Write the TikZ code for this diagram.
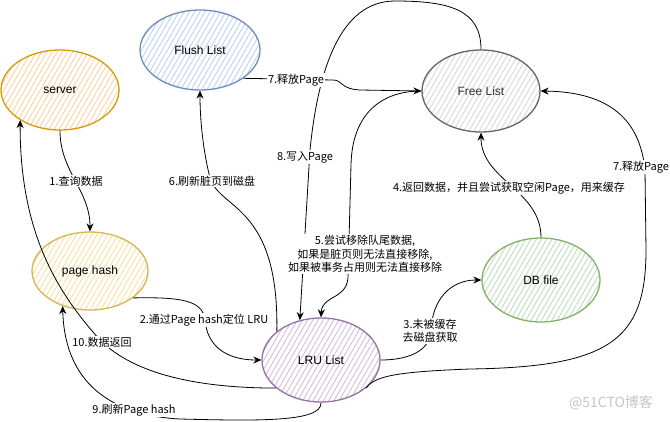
\documentclass[tikz,border=0pt]{standalone}
\usepackage{fontspec}
\setmainfont{Liberation Sans}
\newfontfamily\cjk{Noto Sans CJK SC}
\usetikzlibrary{shapes.geometric,arrows.meta,patterns.meta}

\definecolor{srvline}{HTML}{D79B00}
\definecolor{srvfill}{HTML}{FCD6A8}
\definecolor{flushline}{HTML}{6C8EBF}
\definecolor{flushfill}{HTML}{C3D7F2}
\definecolor{freeline}{HTML}{666666}
\definecolor{freefill}{HTML}{DCDCDC}
\definecolor{hashline}{HTML}{D6B656}
\definecolor{hashfill}{HTML}{FAE3A6}
\definecolor{lruline}{HTML}{9673A6}
\definecolor{lrufill}{HTML}{D6C4E0}
\definecolor{dbline}{HTML}{82B366}
\definecolor{dbfill}{HTML}{C6E0C2}

\begin{document}
\begin{tikzpicture}[x=1pt,y=-1pt,
    every node/.style={font=\fontsize{12}{14}\selectfont},
    blob/.style={ellipse,line width=1.3pt,minimum width=118pt,minimum height=80pt,inner sep=0pt},
    hatch/.style={pattern={Lines[angle=60,distance=4.5pt,line width=1pt]},pattern color=#1},
    arr/.style={-{Stealth[length=8pt,width=7pt]},line width=0.8pt},
    plain/.style={line width=0.8pt},
    lbl/.style={fill=white,inner sep=1pt,align=center,font=\cjk\fontsize{11}{13.5}\selectfont}]
    \useasboundingbox[fill=white] (0,0) rectangle (670,421);

    \node[blob,draw=srvline,hatch=srvfill] (server) at (60,90) {server};
    \node[blob,draw=flushline,hatch=flushfill,minimum width=120pt] (flush) at (200,50) {Flush List};
    \node[blob,draw=freeline,hatch=freefill,minimum height=82pt,text=black!80] (free) at (481,91) {Free List};
    \node[blob,draw=hashline,hatch=hashfill,minimum width=116pt,minimum height=78pt] (phash) at (90,271) {page hash};
    \node[blob,draw=lruline,hatch=lrufill,minimum height=84pt] (lru) at (321,360) {LRU List};
    \node[blob,draw=dbline,hatch=dbfill,minimum height=84pt] (db) at (541,280) {DB file};

    \draw[arr] (server.south) to[out=-90,in=90] (phash.north);
    \draw[arr] (phash.-32) .. controls (180,297) and (203,300) .. (205,320)
        .. controls (207,345) and (225,360) .. (lru.west);
    \draw[arr] (lru.east) .. controls (410,360) and (430,350) .. (431,331)
        .. controls (432,300) and (450,280) .. (db.west);
    \draw[arr] (db.north) to[out=90,in=-90] (free.south);
    \draw[arr] (free.west) .. controls (380,91) and (352,115) .. (351,165) -- (348,278)
        .. controls (346,300) and (322,295) .. (lru.north);
    \draw[arr] (lru.147) .. controls (279,205) and (220,210) .. (210,178)
        .. controls (203,150) and (200,120) .. (flush.south);
    \draw[arr] (flush.-33) -- (333,80) .. controls (343,80) and (340,89) .. (360,90) -- (free.west);
    \draw[arr] (lru.-32) .. controls (375,377) and (390,372) .. (470,369)
        .. controls (610,367) and (646,340) .. (646,250) -- (645,170)
        .. controls (640,120) and (610,92) .. (free.east);
    \draw[arr] (free.north) .. controls (481,10) and (450,1) .. (395,1)
        .. controls (340,1) and (318,70) .. (310,150) -- (lru.118);
    \draw[arr] (lru.south) .. controls (322,422) and (260,421) .. (180,419)
        .. controls (120,416) and (65,390) .. (phash.-128);
    \draw[arr] (lru.212) .. controls (200,388) and (135,375) .. (100,340)
        .. controls (55,290) and (20,230) .. (server.217);

    \node[lbl] (l1) at (76,181) {1.查询数据};
    \node[lbl] (l2) at (204,320) {2.通过Page hash定位 LRU};
    \node[lbl] (l3) at (430,331) {3.未被缓存\\去磁盘获取};
    \node[lbl] (l4) at (509,188) {4.返回数据，并且尝试获取空闲Page，用来缓存};
    \node[lbl] (l5) at (365,254) {5.尝试移除队尾数据,\\如果是脏页则无法直接移除,\\如果被事务占用则无法直接移除};
    \node[lbl] (l6) at (212,181) {6.刷新脏页到磁盘};
    \node[lbl] (l7a) at (296,80) {7.释放Page};
    \node[lbl] (l7b) at (641,167) {7.释放Page};
    \node[lbl] (l8) at (305,157) {8.写入Page};
    \node[lbl] (l9) at (134,410) {9.刷新Page hash};
    \node[lbl] (l10) at (102,342) {10.数据返回};
    \node[font=\cjk\fontsize{14}{16}\selectfont,text=black!22] (wm) at (611,403) {@51CTO博客};
\end{tikzpicture}
\end{document}
